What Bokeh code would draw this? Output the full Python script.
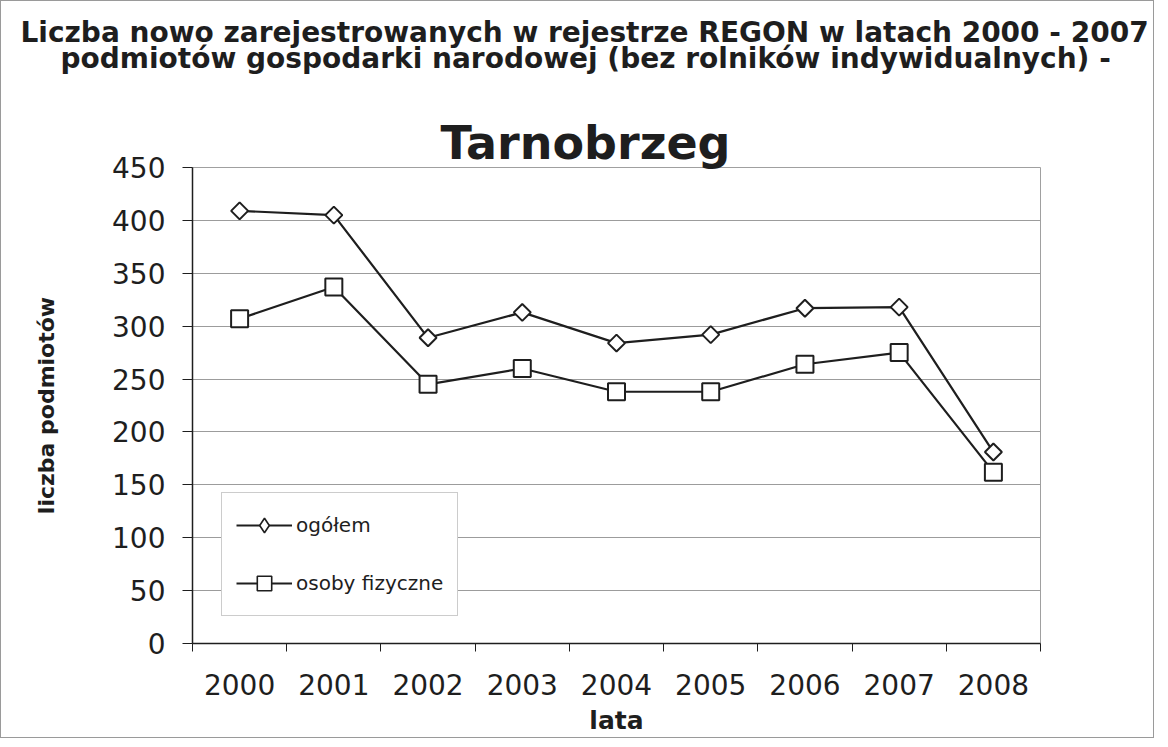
from bokeh.plotting import figure
from bokeh.models import Title, FixedTicker, Legend, LegendItem
from bokeh.embed import file_html
from bokeh.resources import INLINE
import numpy as np

# ---- data ----
years = [2000, 2001, 2002, 2003, 2004, 2005, 2006, 2007, 2008]
ogolem = [409, 405, 289, 313, 284, 292, 317, 318, 181]
osoby_fizyczne = [307, 337, 245, 260, 238, 238, 264, 275, 162]
y_ticks = [0, 50, 100, 150, 200, 250, 300, 350, 400, 450]
series_names = ["ogółem", "osoby fizyczne"]
title_line1 = "Liczba nowo zarejestrowanych w rejestrze REGON w latach 2000 - 2007"
title_line2 = "podmiotów gospodarki narodowej (bez rolników indywidualnych) -"
title_city = "Tarnobrzeg"
x_label = "lata"
y_label = "liczba podmiotów"

FONT = "DejaVu Sans"
INK = "#1e1e1e"

p = figure(
    frame_width=848, frame_height=476,
    min_border_left=191, min_border_right=113,
    min_border_top=166, min_border_bottom=93,
    x_range=(years[0] - 0.5, years[-1] + 0.5), y_range=(y_ticks[0], y_ticks[-1]),
    output_backend="svg", toolbar_location=None,
    background_fill_color="white", border_fill_color="white",
    outline_line_color="#a0a0a0", outline_line_width=1,
)
p.styles = {"border": "1px solid #9a9a9a"}

# titles: stacked outward from the frame: city, gap, line 2, then p.title (line 1)
p.title.text = title_line1
p.title.align = "left"
p.title.text_font = FONT
p.title.text_font_size = "28px"
p.title.text_font_style = "bold"
p.title.text_color = INK
p.title.offset = -172
p.title.standoff = -1
t_city = Title(text=title_city, align="left", text_font=FONT,
               text_font_size="46px", text_font_style="bold", text_color=INK,
               offset=248, standoff=-4)
t_gap = Title(text=" ", align="left", text_font=FONT, text_font_size="28px",
              text_font_style="bold", text_color=INK, standoff=14)
t2 = Title(text=title_line2, align="left", text_font=FONT,
           text_font_size="28px", text_font_style="bold", text_color=INK,
           offset=-132, standoff=-17)
p.add_layout(t_city, "above")
p.add_layout(t_gap, "above")
p.add_layout(t2, "above")

# axes
boundaries = [y - 0.5 for y in years] + [years[-1] + 0.5]
xa = p.xaxis[0]
xa.ticker = FixedTicker(ticks=years, minor_ticks=boundaries)
xa.major_tick_out = 0
xa.major_tick_in = 0
xa.minor_tick_out = 8
xa.minor_tick_in = 0
xa.minor_tick_line_color = INK
xa.axis_line_color = INK
xa.axis_line_width = 1.5
xa.major_label_standoff = 22
xa.major_label_text_font = FONT
xa.major_label_text_font_size = "28px"
xa.major_label_text_color = INK
xa.axis_label = x_label
xa.axis_label_text_font = FONT
xa.axis_label_text_font_size = "25px"
xa.axis_label_text_font_style = "bold"
xa.axis_label_text_color = INK
xa.axis_label_standoff = 8

ya = p.yaxis[0]
ya.ticker = FixedTicker(ticks=y_ticks)
ya.major_tick_out = 10
ya.major_tick_in = 0
ya.minor_tick_out = 0
ya.minor_tick_in = 0
ya.major_tick_line_color = INK
ya.axis_line_color = INK
ya.axis_line_width = 1.5
ya.major_label_standoff = 17
ya.major_label_text_font = FONT
ya.major_label_text_font_size = "28px"
ya.major_label_text_color = INK
ya.axis_label = y_label
ya.axis_label_text_font = FONT
ya.axis_label_text_font_size = "22px"
ya.axis_label_text_font_style = "bold"
ya.axis_label_text_color = INK
ya.axis_label_standoff = 50

p.xgrid.visible = False
p.ygrid.ticker = FixedTicker(ticks=y_ticks)
p.ygrid.grid_line_color = "#9c9c9c"
p.ygrid.grid_line_width = 1.2

# series
l1 = p.line(years, ogolem, line_color=INK, line_width=2.2)
l2 = p.line(years, osoby_fizyczne, line_color=INK, line_width=2.2)
# small markers used for the legend glyphs (hidden beneath the large markers)
s1_small = p.scatter(years, ogolem, marker="diamond", size=11,
                     fill_color="white", line_color=INK, line_width=1.6)
s2_small = p.scatter(years, osoby_fizyczne, marker="square", size=9,
                     fill_color="white", line_color=INK, line_width=1.6)
p.scatter(years, ogolem, marker="square", angle=np.pi / 4, size=12,
          fill_color="white", line_color=INK, line_width=2)
p.scatter(years, osoby_fizyczne, marker="square", size=17,
          fill_color="white", line_color=INK, line_width=2)

legend = Legend(
    items=[LegendItem(label=series_names[0], renderers=[l1, s1_small]),
           LegendItem(label=series_names[1], renderers=[l2, s2_small])],
    location=(29, 27), orientation="vertical",
    border_line_color="#999999", border_line_width=1.2,
    background_fill_color="white", background_fill_alpha=1,
    label_text_font=FONT, label_text_font_size="20px", label_text_color=INK,
    glyph_width=56, glyph_height=36, spacing=22, padding=14, margin=0,
    label_standoff=4, label_width=140,
)
p.add_layout(legend)

open("out.html", "w").write(file_html(p, INLINE))
